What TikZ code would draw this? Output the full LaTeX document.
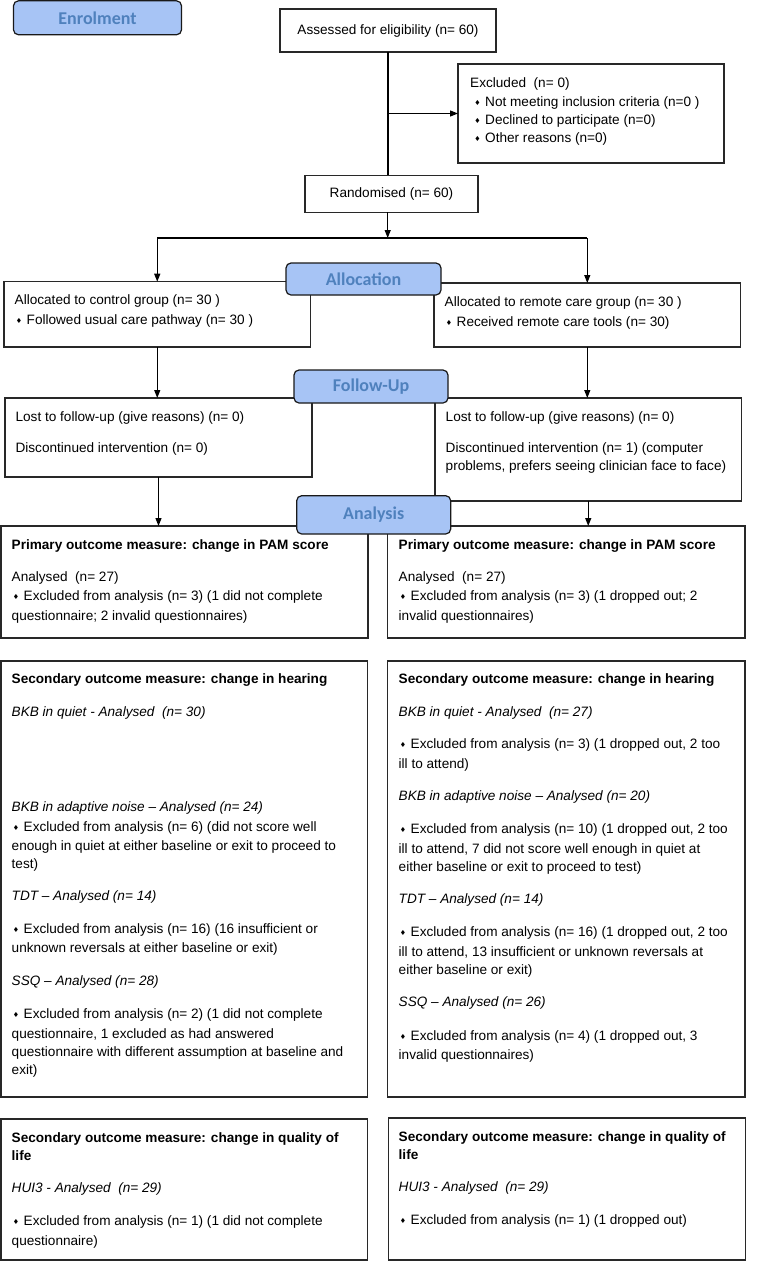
\documentclass[tikz,border=0pt]{standalone}
\usepackage{fontspec}
\setmainfont{Liberation Sans}
\newfontfamily\lblfont{Carlito}
\newfontfamily\dvfont{DejaVu Sans}
\usetikzlibrary{arrows.meta}
\definecolor{lblfill}{RGB}{167,196,245}
\definecolor{lbltext}{RGB}{79,129,189}
\definecolor{edge}{RGB}{40,40,40}
\newcommand\bul{\makebox[12pt][l]{\hspace{1.2pt}\raisebox{0.8pt}{\dvfont\fontsize{7}{7}\selectfont ♦}}}
\tikzset{
  bx/.style={draw=edge, line width=1.3pt, anchor=north west, inner sep=0pt, outer sep=0pt, fill=white, font=\fontsize{13.6}{16}\selectfont},
  lbl/.style={draw=black!90, fill=lblfill, line width=1.2pt, rounded corners=5pt, anchor=north west, inner sep=0pt, outer sep=0pt, text=lbltext, font=\lblfont\bfseries\fontsize{18}{18}\selectfont},
  tx/.style={anchor=base west, inner sep=0pt, font=\fontsize{13.6}{16}\selectfont},
  tb/.style={tx, font=\fontsize{13.6}{16}\selectfont\bfseries},
  ti/.style={tx, font=\fontsize{13.6}{16}\selectfont\itshape},
  ln/.style={draw=black, line width=1.3pt},
  arr/.style={ln, -{Triangle[length=8pt,width=6pt]}}
}
\begin{document}
\begin{tikzpicture}[x=1pt,y=-1pt]
\useasboundingbox (0,0) rectangle (756,1262);
% ---- boxes
\node[bx, minimum width=216pt, minimum height=43pt] (ass) at (280,9) {Assessed for eligibility (n= 60)};
\node[bx, minimum width=266pt, minimum height=99pt] (exc) at (458,64) {};
\node[bx, minimum width=173pt, minimum height=37pt] (rnd) at (305,175.3) {Randomised (n= 60)};
\node[bx, minimum width=306.5pt, minimum height=65.3pt] (al) at (4,281.7) {};
\node[bx, minimum width=306.6pt, minimum height=64pt] (ar) at (434,283) {};
\node[bx, minimum width=307pt, minimum height=79pt] (fl) at (5,398) {};
\node[bx, minimum width=306.5pt, minimum height=103pt] (fr) at (435,398) {};
\node[bx, minimum width=367pt, minimum height=112pt] (pl) at (1,526) {};
\node[bx, minimum width=357.3pt, minimum height=112pt] (pr) at (387.7,526) {};
\node[bx, minimum width=366.7pt, minimum height=436pt] (hl) at (1,661) {};
\node[bx, minimum width=357.3pt, minimum height=436pt] (hr) at (387.7,661) {};
\node[bx, minimum width=366.4pt, minimum height=141pt] (ql) at (1,1119) {};
\node[bx, minimum width=356.7pt, minimum height=142pt] (qr) at (388.7,1118) {};
% ---- texts
\node[tx] (e1) at (470,87.8) {Excluded\ \ (n= 0)};
\node[tx] (e2) at (473,106.2) {\bul Not meeting inclusion criteria (n=0 )};
\node[tx] (e3) at (473,124.5) {\bul Declined to participate (n=0)};
\node[tx] (e4) at (473,142.2) {\bul Other reasons (n=0)};
\node[tx] (a1) at (14.5,304.5) {Allocated to control group (n= 30 )};
\node[tx] (a2) at (14.5,324.5) {\bul Followed usual care pathway (n= 30 )};
\node[tx] (a3) at (444.5,306.8) {Allocated to remote care group (n= 30 )};
\node[tx] (a4) at (444.5,326.2) {\bul Received remote care tools (n= 30)};
\node[tx] (f1) at (15.4,421.2) {Lost to follow-up (give reasons) (n= 0)};
\node[tx] (f2) at (15.4,452.8) {Discontinued intervention (n= 0)};
\node[tx] (f3) at (445.5,421.2) {Lost to follow-up (give reasons) (n= 0)};
\node[tx] (f4) at (445.5,452.8) {Discontinued intervention (n= 1) (computer};
\node[tx] (f5) at (445.5,470.5) {problems, prefers seeing clinician face to face)};
\node[tb] (p1) at (11.5,549.5) {Primary outcome measure: change in PAM score};
\node[tx] (p2) at (11.5,581.5) {Analysed\ \ (n= 27)};
\node[tx] (p3) at (11.5,600.5) {\bul Excluded from analysis (n= 3) (1 did not complete};
\node[tx] (p4) at (11.5,620.5) {questionnaire; 2 invalid questionnaires)};
\node[tb] (p5) at (398.5,549.5) {Primary outcome measure: change in PAM score};
\node[tx] (p6) at (398.5,581.5) {Analysed\ \ (n= 27)};
\node[tx] (p7) at (398.5,600.5) {\bul Excluded from analysis (n= 3) (1 dropped out; 2};
\node[tx] (p8) at (398.5,620.5) {invalid questionnaires)};
\node[tb] (h1) at (11.5,683.5) {Secondary outcome measure: change in hearing};
\node[ti] (h2) at (11.5,716.5) {BKB in quiet - Analysed\ \ (n= 30)};
\node[ti] (h3) at (11.5,811.5) {BKB in adaptive noise – Analysed (n= 24)};
\node[tx] (h4) at (11.5,831.5) {\bul Excluded from analysis (n= 6) (did not score well};
\node[tx] (h5) at (11.5,850.5) {enough in quiet at either baseline or exit to proceed to};
\node[tx] (h6) at (11.5,868.5) {test)};
\node[ti] (h7) at (11.5,900.5) {TDT – Analysed (n= 14)};
\node[tx] (h8) at (11.5,933.5) {\bul Excluded from analysis (n= 16) (16 insufficient or};
\node[tx] (h9) at (11.5,952.5) {unknown reversals at either baseline or exit)};
\node[ti] (h10) at (11.5,985.5) {SSQ – Analysed (n= 28)};
\node[tx] (h11) at (11.5,1018.5) {\bul Excluded from analysis (n= 2) (1 did not complete};
\node[tx] (h12) at (11.5,1038.5) {questionnaire, 1 excluded as had answered};
\node[tx] (h13) at (11.5,1056.5) {questionnaire with different assumption at baseline and};
\node[tx] (h14) at (11.5,1074.5) {exit)};
\node[tb] (k1) at (398.5,683.5) {Secondary outcome measure: change in hearing};
\node[ti] (k2) at (398.5,716.5) {BKB in quiet - Analysed\ \ (n= 27)};
\node[tx] (k3) at (398.5,748.5) {\bul Excluded from analysis (n= 3) (1 dropped out, 2 too};
\node[tx] (k4) at (398.5,768.5) {ill to attend)};
\node[ti] (k5) at (398.5,800.5) {BKB in adaptive noise – Analysed (n= 20)};
\node[tx] (k6) at (398.5,833.5) {\bul Excluded from analysis (n= 10) (1 dropped out, 2 too};
\node[tx] (k7) at (398.5,853.5) {ill to attend, 7 did not score well enough in quiet at};
\node[tx] (k8) at (398.5,871.5) {either baseline or exit to proceed to test)};
\node[ti] (k9) at (398.5,903.5) {TDT – Analysed (n= 14)};
\node[tx] (k10) at (398.5,936.5) {\bul Excluded from analysis (n= 16) (1 dropped out, 2 too};
\node[tx] (k11) at (398.5,956.5) {ill to attend, 13 insufficient or unknown reversals at};
\node[tx] (k12) at (398.5,974.5) {either baseline or exit)};
\node[ti] (k13) at (398.5,1006.5) {SSQ – Analysed (n= 26)};
\node[tx] (k14) at (398.5,1040.5) {\bul Excluded from analysis (n= 4) (1 dropped out, 3};
\node[tx] (k15) at (398.5,1059.5) {invalid questionnaires)};
\node[tb] (q1) at (11.5,1142.5) {Secondary outcome measure: change in quality of};
\node[tb] (q2) at (11.5,1160.5) {life};
\node[ti] (q3) at (11.5,1192.5) {HUI3 - Analysed\ \ (n= 29)};
\node[tx] (q4) at (11.5,1225.5) {\bul Excluded from analysis (n= 1) (1 did not complete};
\node[tx] (q5) at (11.5,1245.5) {questionnaire)};
\node[tb] (q6) at (398.5,1141.5) {Secondary outcome measure: change in quality of};
\node[tb] (q7) at (398.5,1159.5) {life};
\node[ti] (q8) at (398.5,1191.5) {HUI3 - Analysed\ \ (n= 29)};
\node[tx] (q9) at (398.5,1224.5) {\bul Excluded from analysis (n= 1) (1 dropped out)};
% ---- connectors
\coordinate (sp) at (387.7,238);
\draw[ln] (ass.south) -- (ass.south |- rnd.north);
\draw[arr] (ass.south |- exc.west) -- (exc.west);
\draw[arr] (rnd.south -| sp) -- (sp);
\draw[ln] (al.north |- sp) -- (ar.north |- sp);
\draw[arr] (al.north |- sp) -- (al.north);
\draw[arr] (ar.north |- sp) -- (ar.north);
\draw[arr] (al.south) -- (al.south |- fl.north);
\draw[arr] (ar.south) -- (ar.south |- fr.north);
\draw[arr] (fl.south) -- (fl.south |- pl.north);
\draw[arr] (fr.south) -- (fr.south |- pr.north);
% ---- stage labels
\node[lbl, minimum width=168pt, minimum height=34pt] (enr) at (13.5,0.8) {Enrolment};
\node[lbl, minimum width=155pt, minimum height=32pt] (alc) at (286,263) {Allocation};
\node[lbl, minimum width=154pt, minimum height=33pt] (fup) at (294,370) {Follow-Up};
\node[lbl, minimum width=154pt, minimum height=38.3pt] (ana) at (296.7,495.7) {Analysis};
\end{tikzpicture}
\end{document}
